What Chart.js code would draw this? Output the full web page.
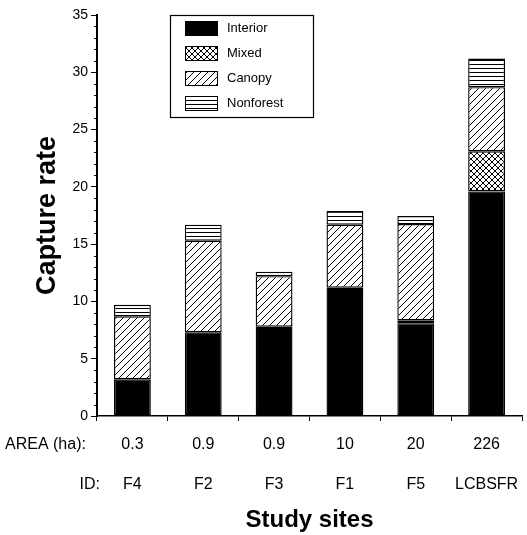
<!DOCTYPE html>
<html><head><meta charset="utf-8">
<script src="https://cdn.jsdelivr.net/npm/chart.js@4/dist/chart.umd.min.js"></script>
<style>html,body{margin:0;padding:0;background:#fff}</style>
</head><body>
<canvas id="c" width="527" height="535" style="width:527px;height:535px;display:block"></canvas>
<script>
// ---- data ----
const siteIDs   = ['F4', 'F2', 'F3', 'F1', 'F5', 'LCBSFR'];
const areaHa    = ['0.3', '0.9', '0.9', '10', '20', '226'];
const interior  = [3.2, 7.3, 7.8, 11.2, 8.1, 19.6];
const mixed     = [0, 0, 0, 0, 0.25, 3.5];
const canopy    = [5.5, 8.0, 4.4, 5.5, 8.4, 5.6];
const nonforest = [1.0, 1.4, 0.4, 1.2, 0.7, 2.5];
const seriesNames = ['Interior', 'Mixed', 'Canopy', 'Nonforest'];
const yTickValues = [0, 5, 10, 15, 20, 25, 30, 35];

const FONT = "'Liberation Sans', Arial, Helvetica, sans-serif";

function makePattern(kind) {
  const c = document.createElement('canvas');
  const s = kind === 'canopy' ? 7 : (kind === 'mixed' ? 6 : 4);
  c.width = s; c.height = s;
  const g = c.getContext('2d');
  g.fillStyle = '#fff'; g.fillRect(0, 0, s, s);
  g.strokeStyle = '#000'; g.lineWidth = 1;
  g.beginPath();
  if (kind === 'canopy' || kind === 'mixed') {
    g.moveTo(-1, s + 1); g.lineTo(s + 1, -1);
    g.moveTo(-1, 1); g.lineTo(1, -1);
    g.moveTo(s - 1, s + 1); g.lineTo(s + 1, s - 1);
  }
  if (kind === 'mixed') {
    g.moveTo(-1, -1); g.lineTo(s + 1, s + 1);
    g.moveTo(s - 1, -1); g.lineTo(s + 1, 1);
    g.moveTo(-1, s - 1); g.lineTo(1, s + 1);
  }
  if (kind === 'nonforest') {
    g.moveTo(0, 0.5); g.lineTo(s, 0.5);
  }
  g.stroke();
  return g.createPattern(c, 'repeat');
}

const fills = ['#000', makePattern('mixed'), makePattern('canopy'), makePattern('nonforest')];
const values = [interior, mixed, canopy, nonforest];

const datasets = seriesNames.map((name, i) => ({
  label: name,
  data: values[i],
  backgroundColor: fills[i],
  borderColor: '#000',
  borderWidth: 1.4,
  borderSkipped: false,
  barPercentage: 0.52,
  categoryPercentage: 1.0
}));

const extras = {
  id: 'extras',
  afterDraw(chart) {
    const ctx = chart.ctx;
    const y = chart.scales.y, x = chart.scales.x;
    ctx.save();
    // minor y ticks
    ctx.strokeStyle = '#000'; ctx.lineWidth = 1;
    for (let v = y.min; v <= y.max; v++) {
      if (v % 5 === 0) continue;
      const py = Math.round(y.getPixelForValue(v)) + 0.5;
      ctx.beginPath(); ctx.moveTo(y.right - 3, py); ctx.lineTo(y.right, py); ctx.stroke();
    }
    // row labels
    ctx.fillStyle = '#000';
    ctx.font = '16px ' + FONT;
    ctx.textBaseline = 'middle';
    const row1 = x.top + 5 + 4 + 20, row2 = row1 + 40;
    ctx.textAlign = 'left'; ctx.fillText('AREA (ha):', 5, row1);
    ctx.textAlign = 'right'; ctx.fillText('ID:', 100, row2);
    // legend
    const lx = 170, ly = 15, lw = 143, lh = 102;
    ctx.fillStyle = '#fff'; ctx.fillRect(lx, ly, lw, lh);
    ctx.strokeStyle = '#000'; ctx.lineWidth = 1.2;
    ctx.strokeRect(lx + 0.5, ly + 0.5, lw, lh);
    ctx.font = '13px ' + FONT;
    ctx.textAlign = 'left';
    chart.data.datasets.forEach((ds, i) => {
      const cy = 28 + i * 25;
      ctx.fillStyle = ds.backgroundColor;
      ctx.fillRect(185, cy - 7, 32, 14);
      ctx.lineWidth = 1;
      ctx.strokeRect(185.5, cy - 7 + 0.5, 32, 14);
      ctx.fillStyle = '#000';
      ctx.fillText(ds.label, 227, cy);
    });
    ctx.restore();
  }
};

new Chart(document.getElementById('c'), {
  type: 'bar',
  data: { labels: siteIDs, datasets },
  options: {
    responsive: false,
    devicePixelRatio: 1,
    animation: false,
    layout: { padding: { top: 15, right: 5, left: 0, bottom: 0 } },
    plugins: { legend: { display: false }, tooltip: { enabled: false } },
    scales: {
      x: {
        stacked: true,
        grid: { offset: true, drawOnChartArea: false, tickLength: 5, color: '#000', tickWidth: 1 },
        border: { color: '#000', width: 1.5 },
        ticks: {
          color: '#000', padding: 4, maxRotation: 0, autoSkip: false,
          font: { size: 16, family: FONT, lineHeight: 2.5 },
          callback: (v, i) => [areaHa[i], siteIDs[i]]
        },
        title: { display: true, text: 'Study sites', color: '#000',
                 font: { size: 24, weight: 'bold', family: FONT }, padding: { top: 0, bottom: 0 } },
        afterFit: s => { s.height = 119; }
      },
      y: {
        stacked: true, min: 0, max: 35,
        afterBuildTicks: s => { s.ticks = yTickValues.map(v => ({ value: v })); },
        grid: { drawOnChartArea: false, tickLength: 6, color: '#000', tickWidth: 1 },
        border: { color: '#000', width: 2 },
        ticks: { color: '#000', padding: 3, font: { size: 14, family: FONT } },
        title: { display: true, text: 'Capture rate', color: '#000',
                 font: { size: 27, weight: 'bold', family: FONT }, padding: { top: 31, bottom: 0 } },
        afterFit: s => { s.width = 97; }
      }
    }
  },
  plugins: [extras]
});
</script>
</body></html>
